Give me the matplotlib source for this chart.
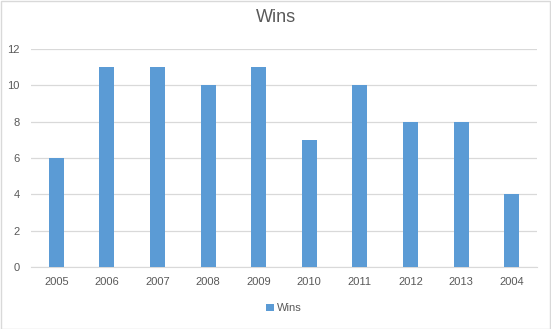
import matplotlib.pyplot as plt
from matplotlib.patches import Rectangle

years = ['2005', '2006', '2007', '2008', '2009', '2010', '2011', '2012', '2013', '2004']
wins = [6, 11, 11, 10, 11, 7, 10, 8, 8, 4]
yticks = [0, 2, 4, 6, 8, 10, 12]

bar_color = '#5B9BD5'
text_color = '#595959'
grid_color = '#D9D9D9'

plt.rcParams['font.family'] = ['Liberation Sans', 'DejaVu Sans']

fig = plt.figure(figsize=(5.51, 3.29), dpi=100)
ax = fig.add_axes([31 / 551, 1 - 267 / 329, 506 / 551, 218 / 329])

x = list(range(len(years)))
ax.bar(x, wins, width=0.3, color=bar_color, label='Wins', zorder=3)

ax.set_xlim(-0.5, len(years) - 0.5)
ax.set_ylim(0, 12)
ax.set_yticks(yticks)
ax.set_xticks(x)
ax.set_xticklabels(years)
ax.tick_params(axis='both', length=0, colors=text_color, labelsize=8)
ax.tick_params(axis='x', pad=7)
ax.tick_params(axis='y', pad=8)
ax.grid(axis='y', color=grid_color, linewidth=0.9, zorder=0)
for side in ['top', 'right', 'left']:
    ax.spines[side].set_visible(False)
ax.spines['bottom'].set_color(grid_color)

fig.text(0.5, 1 - 18 / 329, 'Wins', ha='center', va='center', fontsize=13, color=text_color)

leg = ax.legend(loc='center', bbox_to_anchor=(0.5, -0.19), frameon=False,
                fontsize=8, handlelength=0.7, handleheight=0.7, handletextpad=0.3)
for t in leg.get_texts():
    t.set_color(text_color)

fig.patches.append(Rectangle((0.5 / 551, 0.5 / 329), 549.5 / 551, 327.5 / 329,
                             transform=fig.transFigure, fill=False,
                             edgecolor=grid_color, linewidth=1))

fig.savefig('out.png', dpi=100)
